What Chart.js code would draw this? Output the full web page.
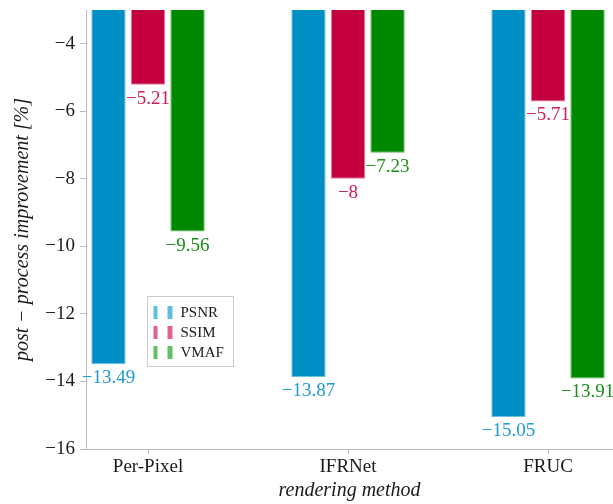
<!DOCTYPE html>
<html>
<head>
<meta charset="utf-8">
<script src="https://cdn.jsdelivr.net/npm/chart.js@4/dist/chart.umd.min.js"></script>
<style>
  html, body { margin: 0; padding: 0; background: #ffffff; }
  #wrap { width: 613px; height: 504px; }
</style>
</head>
<body>
<div id="wrap"><canvas id="c" width="613" height="504"></canvas></div>
<script>
// Rendering methods and per-metric post-process improvement [%]
const categories = ['Per-Pixel', 'IFRNet', 'FRUC'];
const seriesNames = ['PSNR', 'SSIM', 'VMAF'];
const psnr = [-13.49, -13.87, -15.05];
const ssim = [-5.21, -8, -5.71];
const vmaf = [-9.56, -7.23, -13.91];
const yTicks = [-16, -14, -12, -10, -8, -6, -4];
const xTicks = [0, 1, 2];

const barColors = ['#008fc5', '#c5003e', '#008800'];
const edgeColors = ['#6cc0e4', '#e07a9c', '#5fb85f'];
const labelColors = ['#1d9ad4', '#cc1b55', '#1a8f1a'];
const legendColors = ['#5cbfe2', '#e2628e', '#62bf62'];

const SERIF = "'Liberation Serif', serif";

const toPoints = vals => vals.map((v, i) => ({ x: i, y: v }));
const fmt = v => String(v).replace('-', '\u2212');

// Value written just under the end of each bar
const valueLabels = {
  id: 'valueLabels',
  afterDatasetsDraw(chart) {
    const ctx = chart.ctx;
    ctx.save();
    ctx.font = '19px ' + SERIF;
    ctx.textAlign = 'center';
    ctx.textBaseline = 'middle';
    chart.data.datasets.forEach((ds, di) => {
      const meta = chart.getDatasetMeta(di);
      meta.data.forEach((bar, i) => {
        ctx.fillStyle = labelColors[di];
        ctx.fillText(fmt(ds.data[i].y), bar.x, bar.y + 14);
      });
    });
    ctx.restore();
  }
};

// Boxed legend with the double-bar swatches
const barLegend = {
  id: 'barLegend',
  afterDraw(chart) {
    const ctx = chart.ctx;
    const ca = chart.chartArea;
    const x0 = ca.left + 61.5, y0 = ca.top + 286.5, w = 86, h = 70;
    ctx.save();
    ctx.fillStyle = '#ffffff';
    ctx.fillRect(x0, y0, w, h);
    ctx.strokeStyle = '#cccccc';
    ctx.lineWidth = 1;
    ctx.strokeRect(x0, y0, w, h);
    ctx.font = '15px ' + SERIF;
    ctx.textAlign = 'left';
    ctx.textBaseline = 'middle';
    seriesNames.forEach((name, i) => {
      const cy = y0 + 16 + i * 20;
      ctx.fillStyle = legendColors[i];
      ctx.fillRect(x0 + 6, cy - 6.5, 4, 13);
      ctx.fillRect(x0 + 20, cy - 6.5, 5, 13);
      ctx.fillStyle = '#1a1a1a';
      ctx.fillText(name, x0 + 33, cy + 1);
    });
    ctx.restore();
  }
};

const datasets = [psnr, ssim, vmaf].map((vals, i) => ({
  label: seriesNames[i],
  data: toPoints(vals),
  backgroundColor: barColors[i],
  borderColor: edgeColors[i],
  borderWidth: 1,
  borderSkipped: 'start',
  categoryPercentage: 0.593,
  barPercentage: 0.87
}));

function draw() {
  new Chart(document.getElementById('c'), {
    type: 'bar',
    data: { datasets },
    plugins: [valueLabels, barLegend],
    options: {
      responsive: false,
      animation: false,
      devicePixelRatio: 1,
      layout: { padding: { top: 10, right: 0, left: 0, bottom: 0 } },
      plugins: { legend: { display: false }, tooltip: { enabled: false } },
      scales: {
        x: {
          type: 'linear',
          min: -0.31,
          max: 2.325,
          offset: false,
          afterBuildTicks: s => { s.ticks = xTicks.map(v => ({ value: v })); },
          afterFit: s => { s.height = 55; s.paddingLeft = 0; s.paddingRight = 0; },
          grid: { display: true, offset: false, drawOnChartArea: false, drawTicks: true, tickLength: 5, tickColor: '#bbbbbb' },
          border: { display: true, color: '#bbbbbb', width: 1 },
          ticks: {
            color: '#1a1a1a',
            font: { family: SERIF, size: 19 },
            padding: 2,
            maxRotation: 0,
            autoSkip: false,
            callback: v => categories[v] ?? ''
          },
          title: {
            display: true,
            text: 'rendering method',
            color: '#1a1a1a',
            font: { family: SERIF, size: 20, style: 'italic' },
            padding: { top: 0, bottom: 1 }
          }
        },
        y: {
          min: -16,
          max: -3,
          afterBuildTicks: s => { s.ticks = yTicks.map(v => ({ value: v })); },
          afterFit: s => { s.width = 86; s.paddingTop = 0; s.paddingBottom = 0; },
          grid: { display: true, drawOnChartArea: false, drawTicks: true, tickLength: 6, tickColor: '#bbbbbb' },
          border: { display: true, color: '#bbbbbb', width: 1 },
          ticks: {
            color: '#1a1a1a',
            font: { family: SERIF, size: 19 },
            padding: 5,
            callback: v => fmt(v)
          },
          title: {
            display: true,
            text: 'post \u2212 process improvement [%]',
            color: '#1a1a1a',
            font: { family: SERIF, size: 20, style: 'italic' },
            padding: { top: 11, bottom: 0 }
          }
        }
      }
    }
  });
}

Promise.all([
  document.fonts.load("19px 'Liberation Serif'"),
  document.fonts.load("italic 20px 'Liberation Serif'")
]).then(draw, draw);
</script>
</body>
</html>
